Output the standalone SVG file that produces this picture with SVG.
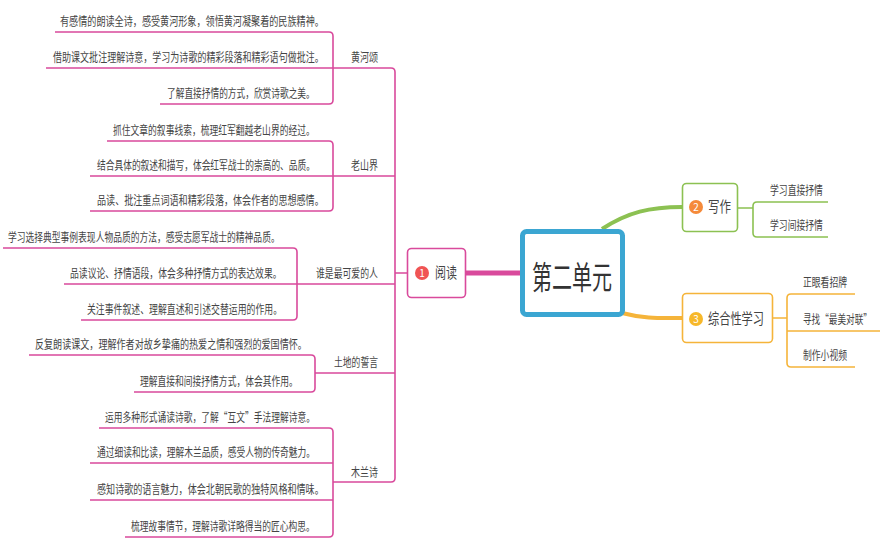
<svg xmlns="http://www.w3.org/2000/svg" width="886" height="545" viewBox="0 0 886 545">
<style>
text{font-family:"Noto Sans CJK SC","Noto Sans",sans-serif;fill:#444;font-size:12px}
.nt{font-size:15px}
.num{font-size:10px;fill:#fff;text-anchor:middle}
.pk{fill:none;stroke:#d94a9c;stroke-width:1.6}
.gr{fill:none;stroke:#8cc152;stroke-width:1.6}
.og{fill:none;stroke:#f5b43a;stroke-width:1.6}
</style>
<rect width="886" height="545" fill="#fff"/>
<g id="connectors">
<path class="pk" d="M333,68 H391 Q395,68 395,72 V478 Q395,482 391,482 H333"/>
<path class="pk" d="M333,176 H395 M297,284 H395 M315,373 H395 M395,273 H407"/>
<path d="M466,273 H521" stroke="#d94a9c" stroke-width="5" fill="none"/>
<path class="pk" d="M55,32 H329 Q333,32 333,36 V100 Q333,104 329,104 H160 M46,68 H333"/>
<path class="pk" d="M107,141 H329 Q333,141 333,145 V207 Q333,211 329,211 H90 M90,176 H333"/>
<path class="pk" d="M3,248 H293 Q297,248 297,252 V316 Q297,320 293,320 H81 M64,284 H297"/>
<path class="pk" d="M29,355 H311 Q315,355 315,359 V388 Q315,392 311,392 H134"/>
<path class="pk" d="M99,428 H329 Q333,428 333,432 V533 Q333,537 329,537 H125 M90,463 H333 M90,500 H333"/>
<path d="M602,229 C628,212 650,207 682,207" stroke="#8cc152" stroke-width="4" fill="none"/>
<path class="gr" d="M738,208 H753 M828,202 H757 Q753,202 753,206 V233 Q753,237 757,237 H828"/>
<path d="M622,313 C645,319 660,318 682,318" stroke="#f5b43a" stroke-width="4" fill="none"/>
<path class="og" d="M773,318 H787 M855,294 H791 Q787,294 787,298 V363 Q787,367 791,367 H855 M787,331 H880"/>
</g>
<g id="center">
<rect x="522.5" y="231.5" width="100" height="83" rx="4" fill="#fff" stroke="#3ba6d2" stroke-width="5"/>
<text transform="translate(532,289) scale(0.625,1)" font-size="32" style="fill:#333;font-size:32px">第二单元</text>
</g>
<g id="yuedu">
<rect x="407.5" y="248.5" width="58" height="49" rx="4" fill="#fff" stroke="#d94a9c" stroke-width="1.6"/>
<circle cx="422" cy="273" r="7" fill="#f05454"/>
<text class="num" x="422" y="277">1</text>
<text class="nt" transform="translate(435,278) scale(0.733,1)">阅读</text>
</g>
<g id="xiezuo">
<rect x="682.5" y="183.5" width="55" height="48" rx="4" fill="#fff" stroke="#8cc152" stroke-width="1.6"/>
<circle cx="696" cy="207" r="7" fill="#f58a3a"/>
<text class="num" x="696" y="211">2</text>
<text class="nt" transform="translate(708,212) scale(0.767,1)">写作</text>
</g>
<g id="zonghe">
<rect x="682.5" y="293.5" width="90" height="49" rx="4" fill="#fff" stroke="#f5b43a" stroke-width="1.6"/>
<circle cx="696" cy="319" r="7" fill="#f7b82a"/>
<text class="num" x="696" y="323">3</text>
<text class="nt" transform="translate(708,324) scale(0.747,1)">综合性学习</text>
</g>
<g id="huangheshong">
<text transform="translate(351,62) scale(0.75,1)">黄河颂</text>
<text transform="translate(60,26) scale(0.759,1)">有感情的朗读全诗，感受黄河形象，领悟黄河凝聚着的民族精神。</text>
<text transform="translate(53,62) scale(0.753,1)">借助课文批注理解诗意，学习为诗歌的精彩段落和精彩语句做批注。</text>
<text transform="translate(167,98) scale(0.725,1)">了解直接抒情的方式，欣赏诗歌之美。</text>
</g>
<g id="laoshanjie">
<text transform="translate(351,170) scale(0.75,1)">老山界</text>
<text transform="translate(113,135) scale(0.732,1)">抓住文章的叙事线索，梳理红军翻越老山界的经过。</text>
<text transform="translate(97,170) scale(0.727,1)">结合具体的叙述和描写，体会红军战士的崇高的、品质。</text>
<text transform="translate(97,205) scale(0.757,1)">品读、批注重点词语和精彩段落，体会作者的思想感情。</text>
</g>
<g id="shuishi">
<text transform="translate(316,278) scale(0.738,1)">谁是最可爱的人</text>
<text transform="translate(8,242) scale(0.731,1)">学习选择典型事例表现人物品质的方法，感受志愿军战士的精神品质。</text>
<text transform="translate(70,278) scale(0.736,1)">品读议论、抒情语段，体会多种抒情方式的表达效果。</text>
<text transform="translate(87,314) scale(0.739,1)">关注事件叙述、理解直述和引述交替运用的作用。</text>
</g>
<g id="tudi">
<text transform="translate(334,367) scale(0.733,1)">土地的誓言</text>
<text transform="translate(35,349) scale(0.756,1)">反复朗读课文，理解作者对故乡挚痛的热爱之情和强烈的爱国情怀。</text>
<text transform="translate(140,386) scale(0.731,1)">理解直接和间接抒情方式，体会其作用。</text>
</g>
<g id="mulanshi">
<text transform="translate(351,477) scale(0.75,1)">木兰诗</text>
<text transform="translate(105,422) scale(0.729,1)">运用多种形式诵读诗歌，了解“互文”手法理解诗意。</text>
<text transform="translate(97,457) scale(0.727,1)">通过细读和比读，理解木兰品质，感受人物的传奇魅力。</text>
<text transform="translate(97,494) scale(0.757,1)">感知诗歌的语言魅力，体会北朝民歌的独特风格和情味。</text>
<text transform="translate(131,531) scale(0.730,1)">梳理故事情节，理解诗歌详略得当的匠心构思。</text>
</g>
<g id="xiezuo-leaves">
<text transform="translate(770,195) scale(0.736,1)">学习直接抒情</text>
<text transform="translate(770,230) scale(0.736,1)">学习间接抒情</text>
</g>
<g id="zonghe-leaves">
<text transform="translate(803,287) scale(0.733,1)">正眼看招牌</text>
<text transform="translate(803,324) scale(0.719,1)">寻找“最美对联”</text>
<text transform="translate(803,360) scale(0.733,1)">制作小视频</text>
</g>
</svg>
